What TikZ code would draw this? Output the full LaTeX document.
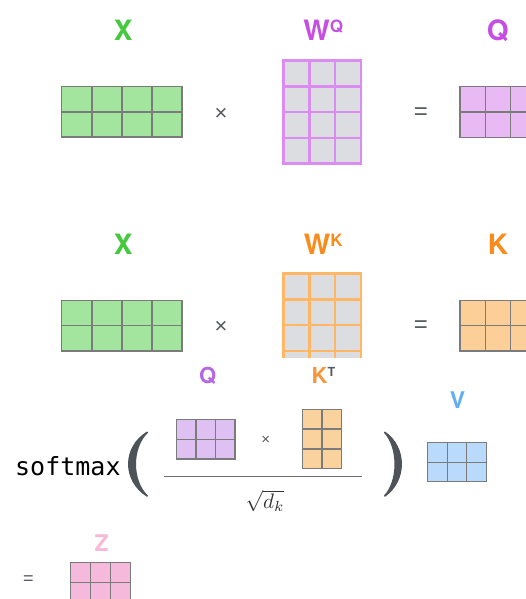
\documentclass[tikz,border=0pt]{standalone}
\usepackage{fontspec}
\setmainfont{Liberation Sans}
\newfontfamily\lblfont{TeX Gyre Heros}
\newfontfamily\monofont{DejaVu Sans Mono}
\definecolor{cx}{HTML}{44C93F}
\definecolor{cviolet}{HTML}{C64FE2}
\definecolor{corange}{HTML}{FB8C1B}
\definecolor{cqb}{HTML}{B566E3}
\definecolor{ckb}{HTML}{F6963D}
\definecolor{cv}{HTML}{62AEF6}
\definecolor{cz}{HTML}{F6BAD8}
\definecolor{csign}{HTML}{555A60}
\definecolor{cparen}{HTML}{4D5359}
\definecolor{cellgray}{HTML}{7B7B7B}
\definecolor{fx}{HTML}{A3E59F}
\definecolor{fq}{HTML}{E8B9F3}
\definecolor{fw}{HTML}{DCDDE0}
\definecolor{fk}{HTML}{FDCF98}
\definecolor{fqs}{HTML}{DFC0F3}
\definecolor{fks}{HTML}{F9D29D}
\definecolor{fv}{HTML}{B9DAFA}
\definecolor{fz}{HTML}{F5BADB}
\definecolor{lwq}{HTML}{DB8CF0}
\definecolor{lwk}{HTML}{FFB766}
\newcommand\cellgrid[8]{%
  \coordinate (#1) at (#2,#3);
  \fill[#8 fill] (#2,#3) rectangle ({#2+#4*#6},{#3+#5*#7});
  \foreach \i in {0,...,#4}{\draw[#8 line] ({#2+\i*#6},#3) -- ({#2+\i*#6},{#3+#5*#7});}
  \foreach \j in {0,...,#5}{\draw[#8 line] (#2,{#3+\j*#7}) -- ({#2+#4*#6},{#3+\j*#7});}
}
\begin{document}
\begin{tikzpicture}[x=1pt,y=-1pt,
  lbl/.style={inner sep=0pt,anchor=base,font=\lblfont\bfseries\fontsize{28}{28}\selectfont},
  lbls/.style={inner sep=0pt,anchor=base,font=\lblfont\bfseries\fontsize{22}{22}\selectfont},
  sign/.style={inner sep=0pt,text=csign,font=\fontsize{22}{22}\selectfont},
  gl/.style={draw=cellgray,line width=1.3pt,line cap=rect},
  xm fill/.style={fill=fx}, xm line/.style={gl},
  qm fill/.style={fill=fq}, qm line/.style={gl},
  km fill/.style={fill=fk}, km line/.style={gl},
  wq fill/.style={fill=fw}, wq line/.style={draw=lwq,line width=2.6pt,line cap=rect},
  wk fill/.style={fill=fw}, wk line/.style={draw=lwk,line width=2.6pt,line cap=rect},
  qs fill/.style={fill=fqs}, qs line/.style={gl},
  ks fill/.style={fill=fks}, ks line/.style={gl},
  vs fill/.style={fill=fv}, vs line/.style={gl},
  zs fill/.style={fill=fz}, zs line/.style={gl},
  fracline/.style={draw=cellgray!90!black,line width=1.3pt}]
\useasboundingbox (0,0) rectangle (526,599);
\clip (0,0) rectangle (526,599);
\fill[white] (0,0) rectangle (526,599);
% ---- top row: X W^Q = Q
\node[lbl,text=cx] (xlab1) at (123.3,40.7) {X};
\node[lbl,text=cviolet] (wqlab) at (323.3,40.7) {W\raisebox{8pt}{\fontsize{17}{17}\selectfont Q}};
\node[lbl,text=cviolet] (qlab1) at (497.7,40.7) {Q};
\cellgrid{xmat1}{61.8}{86.7}{4}{2}{30.05}{25.2}{xm}
\node[sign] (times1) at (221,114) {×};
\cellgrid{wqmat}{283.5}{60.5}{3}{4}{25.8}{25.8}{wq}
\node[sign,font=\fontsize{24}{24}\selectfont] (eq1) at (421,113.5) {=};
\cellgrid{qmat1}{460}{86.7}{3}{2}{25.3}{25.3}{qm}
% ---- middle row: X W^K = K
\node[lbl,text=cx] (xlab2) at (123.3,254.5) {X};
\node[lbl,text=corange] (wklab) at (323.3,254.5) {W\raisebox{8pt}{\fontsize{17}{17}\selectfont K}};
\node[lbl,text=corange] (klab1) at (498,254.5) {K};
\cellgrid{xmat2}{61.8}{300.3}{4}{2}{30.05}{25.35}{xm}
\node[sign] (times2) at (221,327.5) {×};
\begin{scope}
\clip (0,0) rectangle (526,357);
\cellgrid{wkmat}{283.5}{273.5}{3}{4}{25.8}{25.8}{wk}
\end{scope}
\node[sign,font=\fontsize{24}{24}\selectfont] (eq2) at (421,327) {=};
\cellgrid{kmat1}{460}{300.3}{3}{2}{25.3}{25.35}{km}
% ---- softmax row
\node[inner sep=0pt,anchor=base west,font=\monofont\fontsize{25}{25}\selectfont] (smx) at (15,475) {softmax};
\fill[cparen] (147,431.5) .. controls (121.7,447) and (121.7,481) .. (147,496.8)
   -- (148.2,495.8) .. controls (132,481) and (132,447.5) .. (148.2,432.5) -- cycle;
\fill[cparen] (385,431.5) .. controls (407.6,447) and (407.6,481) .. (385,496.8)
   -- (383.8,495.8) .. controls (398,481) and (398,447.5) .. (383.8,432.5) -- cycle;
\node[lbls,text=cqb] (qlab2) at (207.7,383) {Q};
\node[lbls,text=ckb] (ktlab) at (323.5,383) {K\textcolor{csign}{\raisebox{7pt}{\fontsize{12.5}{12.5}\selectfont T}}};
\node[lbls,text=cv,font=\lblfont\bfseries\fontsize{23}{23}\selectfont] (vlab) at (457.5,408) {V};
\cellgrid{qsmat}{176.3}{419.3}{3}{2}{19.57}{19.85}{qs}
\node[sign,font=\fontsize{15}{15}\selectfont] (times3) at (265.7,440) {×};
\cellgrid{ksmat}{302.7}{409.3}{2}{3}{19.3}{19.8}{ks}
\cellgrid{vsmat}{427.7}{442.7}{3}{2}{19.55}{19.5}{vs}
\coordinate (fl) at (164.3,476.7);
\coordinate (fr) at (362.3,476.7);
\draw[fracline] (fl) -- (fr);
\node[inner sep=0pt,text=black!80] (sqdk) at (265,501) {\scalebox{2.1}{$\sqrt{d_k}$}};
% ---- result row
\node[sign,font=\fontsize{18}{18}\selectfont] (eq3) at (28.3,580.3) {=};
\node[lbls,text=cz,font=\lblfont\bfseries\fontsize{23}{23}\selectfont] (zlab) at (101.7,551.5) {Z};
\cellgrid{zsmat}{70.7}{562.3}{3}{2}{20}{20}{zs}
\end{tikzpicture}
\end{document}
